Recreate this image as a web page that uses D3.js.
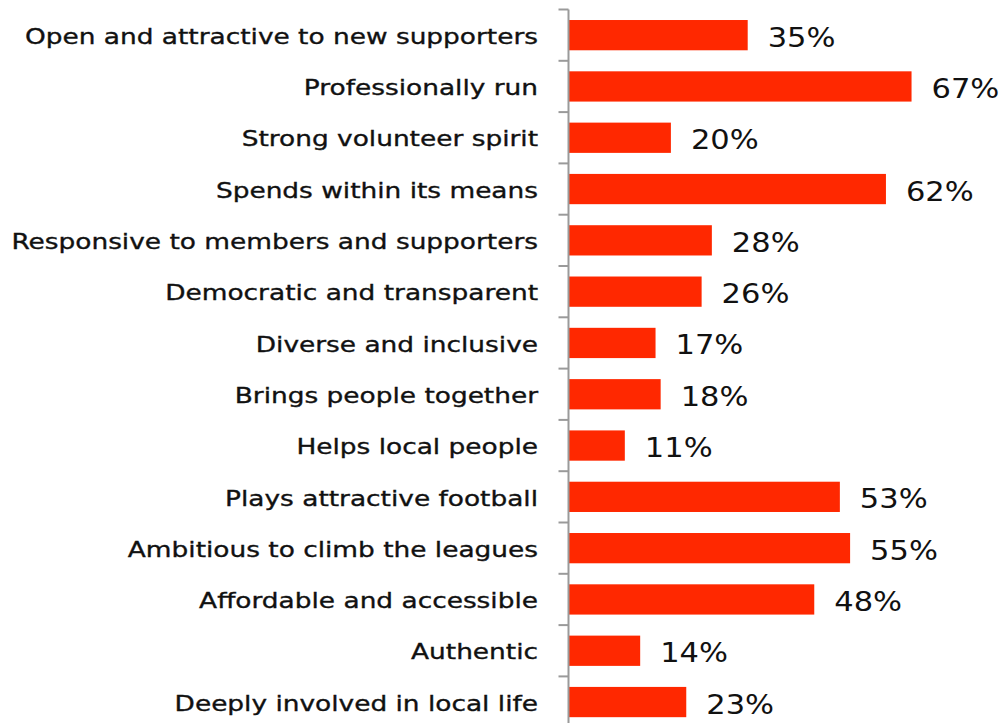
<!DOCTYPE html>
<html>
<head>
<meta charset="utf-8">
<script src="https://cdn.jsdelivr.net/npm/d3@7"></script>
<style>
  html, body { margin: 0; padding: 0; background: #fff; }
  svg { display: block; }
</style>
</head>
<body>
<svg id="chart" width="1005" height="723"></svg>
<script>
const categories = [
  "Open and attractive to new supporters",
  "Professionally run",
  "Strong volunteer spirit",
  "Spends within its means",
  "Responsive to members and supporters",
  "Democratic and transparent",
  "Diverse and inclusive",
  "Brings people together",
  "Helps local people",
  "Plays attractive football",
  "Ambitious to climb the leagues",
  "Affordable and accessible",
  "Authentic",
  "Deeply involved in local life"
];
const values = [35, 67, 20, 62, 28, 26, 17, 18, 11, 53, 55, 48, 14, 23];

const svg = d3.select("#chart");
const fontFamily = "'DejaVu Sans', sans-serif";

const x0 = 568.5;
const x = d3.scaleLinear().domain([0, 100]).range([x0, x0 + 512]);
const y = d3.scaleBand()
  .domain(categories)
  .range([9.5, 9.5 + 14 * 51.3])
  .paddingInner(0.41)
  .paddingOuter(0.205);

const boundary = d => y(d) - y.step() * 0.205;

// bars
svg.append("g").selectAll("rect")
  .data(categories)
  .join("rect")
  .attr("x", x(0))
  .attr("y", d => y(d))
  .attr("width", (d, i) => x(values[i]) - x(0))
  .attr("height", y.bandwidth())
  .attr("fill", "#ff2800");

// category axis with ticks between bands
const axis = svg.append("g").attr("stroke", "#9a9a9a").attr("stroke-width", 2);
axis.append("line")
  .attr("x1", x0).attr("x2", x0)
  .attr("y1", y.range()[0]).attr("y2", y.range()[1]);
axis.selectAll("line.tick")
  .data(categories)
  .join("line")
  .attr("class", "tick")
  .attr("x1", x0 - 10).attr("x2", x0)
  .attr("y1", d => boundary(d)).attr("y2", d => boundary(d));

// category labels (wide, medium-weight lettering)
svg.append("g").selectAll("text")
  .data(categories)
  .join("text")
  .attr("transform", d => `translate(538,${y(d) + y.bandwidth() / 2 + 1}) scale(1.2,1)`)
  .attr("dy", "0.35em")
  .attr("text-anchor", "end")
  .attr("font-family", fontFamily)
  .attr("font-size", 22)
  .attr("fill", "#111")
  .attr("stroke", "#111")
  .attr("stroke-width", 0.35)
  .text(d => d);

// value labels
svg.append("g").selectAll("text")
  .data(categories)
  .join("text")
  .attr("transform", (d, i) => `translate(${x(values[i]) + 20},${y(d) + y.bandwidth() / 2 + 2}) scale(1.13,1)`)
  .attr("dy", "0.35em")
  .attr("font-family", fontFamily)
  .attr("font-size", 27)
  .attr("fill", "#111")
  .text((d, i) => values[i] + "%");
</script>
</body>
</html>
